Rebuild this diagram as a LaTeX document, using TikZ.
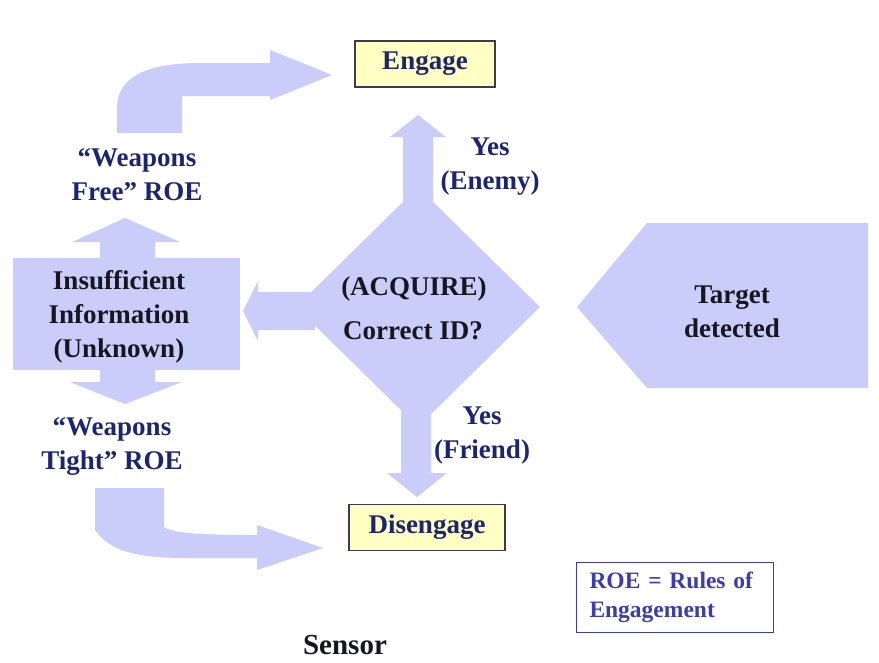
\documentclass[tikz,border=0pt]{standalone}
\usepackage{fontspec}
\setmainfont{Liberation Serif}
\usetikzlibrary{shapes.geometric}
\definecolor{arrowc}{RGB}{202,205,250}
\definecolor{navy}{RGB}{28,38,112}
\definecolor{darktext}{RGB}{22,22,32}
\definecolor{boxfill}{RGB}{255,255,196}
\definecolor{boxline}{RGB}{60,60,80}
\definecolor{roeblue}{RGB}{60,60,170}
\tikzset{
  blockarrow/.style={fill=arrowc, draw=none},
  bigtext/.style={font=\fontsize{27}{34}\selectfont\bfseries, align=center, inner sep=0pt},
  navytext/.style={bigtext, text=navy},
  darklabel/.style={bigtext, text=darktext},
  actionbox/.style={draw=boxline, line width=1.3pt, fill=boxfill, font=\fontsize{27}{30}\selectfont\bfseries, text=navy, minimum width=#1, minimum height=46pt, inner sep=0pt},
}
\begin{document}
\begin{tikzpicture}[x=1pt,y=-1pt]
\useasboundingbox (0,0) rectangle (879,662);
\fill[white] (0,0) rectangle (879,662);

% diamond
\node[diamond, blockarrow, minimum width=244pt, minimum height=240pt, inner sep=0pt] (dia) at (418,307) {};
% up arrow to Engage
\fill[blockarrow] (403,215) -- (403,137) -- (390,137) -- (418,115) -- (446,137) -- (433,137) -- (433,215) -- cycle;
% down arrow to Disengage
\fill[blockarrow] (401,400) -- (401,473) -- (387,473) -- (417,497) -- (447,473) -- (431,473) -- (431,400) -- cycle;
% left arrow to Insufficient Information
\fill[blockarrow] (315,292) -- (258,292) -- (258,281) -- (243,311) -- (258,341) -- (258,330) -- (315,330) -- cycle;

% Insufficient information box with up/down arrows
\fill[blockarrow] (13,258) rectangle (240,370);
\fill[blockarrow] (100,262) -- (100,242) -- (72,242) -- (125,218) -- (180,242) -- (155,242) -- (155,262) -- cycle;
\fill[blockarrow] (100,366) -- (100,382) -- (70,382) -- (125,404) -- (182,382) -- (155,382) -- (155,366) -- cycle;

% top curved arrow
\fill[blockarrow] (117,133) -- (117,108) .. controls (117,78) and (145,63) .. (200,63) -- (270,63) -- (270,50) -- (332,75) -- (270,100) -- (270,96) -- (182,96) -- (182,133) -- cycle;
% bottom curved arrow
\fill[blockarrow] (95,488) -- (95,530) .. controls (110,552) and (140,558) .. (185,558) -- (257,558) -- (257,570) -- (323,548) -- (257,525) -- (257,535) .. controls (200,535) and (172,533) .. (164,527) -- (164,488) -- cycle;

% Target detected pentagon
\fill[blockarrow] (577,307) -- (647,223) -- (868,223) -- (868,388) -- (647,388) -- cycle;

% boxes
\node[actionbox=140pt] (engage) at (425,64) {Engage};
\node[actionbox=156pt] (disengage) at (427,527.5) {Disengage};

% texts
\node[darklabel] (acq) at (414,289) {(ACQUIRE)};
\node[darklabel] (cid) at (413,331) {Correct ID?};
\node[darklabel] (insuff) at (119,317) {Insufficient\\Information\\(Unknown)};
\node[darklabel] (target) at (732,312) {Target\\detected};
\node[navytext] (yesenemy) at (490,167) {Yes\\(Enemy)};
\node[navytext] (yesfriend) at (482,436) {Yes\\(Friend)};
\node[navytext] (wfree) at (137,175) {“Weapons\\Free” ROE};
\node[navytext] (wtight) at (112,446) {“Weapons\\Tight” ROE};
\node[draw=roeblue, line width=1pt, text=roeblue, font=\fontsize{23.5}{29}\selectfont\bfseries, align=left, minimum width=197pt, minimum height=70pt, text width=170pt, inner sep=0pt] (roe) at (674.5,597) {\hspace*{0pt}ROE = Rules of\\\hspace*{0pt}Engagement};
\node[darklabel, font=\fontsize{29}{31}\selectfont\bfseries] (sensor) at (345,645) {Sensor};
\end{tikzpicture}
\end{document}
